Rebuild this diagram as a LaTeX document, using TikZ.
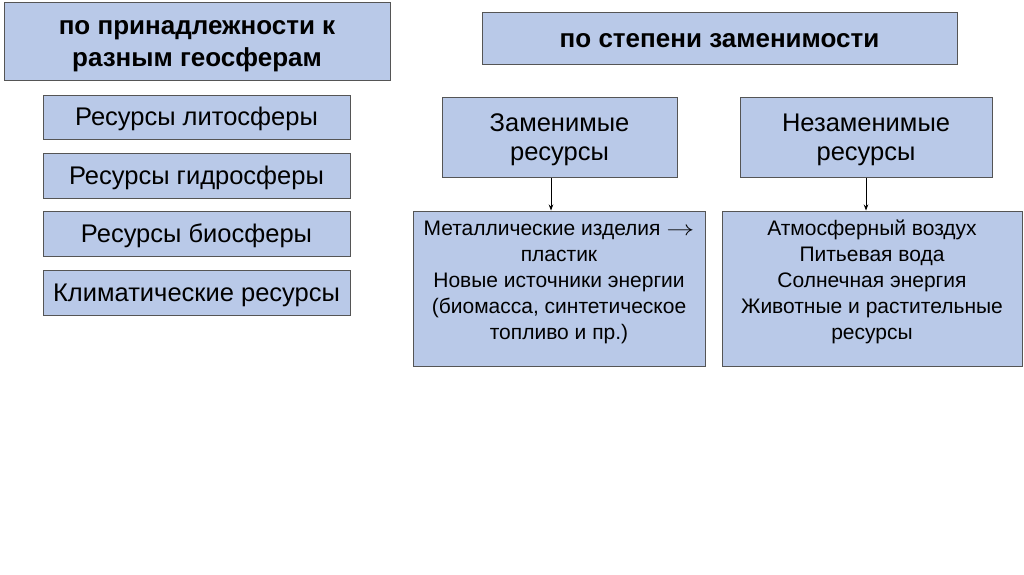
\documentclass[tikz,border=0pt]{standalone}
\usepackage{fontspec}
\usepackage{graphicx}
\setmainfont{Liberation Sans}
\usetikzlibrary{arrows.meta}
\definecolor{boxfill}{RGB}{185,201,232}
\definecolor{boxline}{RGB}{85,85,85}
\newcommand{\pst}{\rule[-0.212em]{0pt}{1.117em}}
\newcommand{\longarr}{\scalebox{1.35}[1]{$\rightarrow$}}
\begin{document}
\begin{tikzpicture}[x=1pt,y=-1pt,
  box/.style={draw=boxline, fill=boxfill, line width=1pt, inner sep=0pt, align=center},
  headtext/.style={font=\fontsize{26}{32}\selectfont\bfseries},
  itemtext/.style={font=\fontsize{25.5}{28}\selectfont},
  bodytext/.style={font=\fontsize{21}{26}\selectfont, align=center, inner sep=0pt},
  conn/.style={-{Stealth[length=6pt,width=4.5pt]}, line width=0.7pt, black}]
\useasboundingbox (0,0) rectangle (1024,574);
\fill[white] (0,0) rectangle (1024,574);
% left column
\node[box, headtext, minimum width=386pt, minimum height=78pt] (geo) at (197,41.5) {\pst по принадлежности к\\\pst разным геосферам};
\node[box, itemtext, minimum width=307pt, minimum height=44pt] (lit) at (196.5,117) {\pst Ресурсы литосферы};
\node[box, itemtext, minimum width=307pt, minimum height=45pt] (gid) at (196.5,175.5) {\pst Ресурсы гидросферы};
\node[box, itemtext, minimum width=307pt, minimum height=45pt] (bio) at (196.5,233.5) {\pst Ресурсы биосферы};
\node[box, itemtext, minimum width=307pt, minimum height=45pt] (kli) at (196.5,292.5) {\pst Климатические ресурсы};
% right column
\node[box, headtext, minimum width=475pt, minimum height=52pt] (zam) at (719.5,38) {\pst по степени заменимости};
\node[box, itemtext, minimum width=235pt, minimum height=80pt] (z1) at (559.5,137) {\pst Заменимые\\\pst ресурсы};
\node[box, itemtext, minimum width=252pt, minimum height=80pt] (z2) at (866,137) {\pst Незаменимые\\\pst ресурсы};
\node[box, minimum width=292pt, minimum height=155pt] (s1) at (559,288.5) {};
\node[box, minimum width=300pt, minimum height=155pt] (s2) at (872,288.5) {};
\node[bodytext, anchor=north] (s1t) at ([yshift=-6pt]s1.north) {\pst Металлические изделия \longarr\\пластик\\Новые источники энергии\\(биомасса, синтетическое\\топливо и пр.)};
\node[bodytext, anchor=north] (s2t) at ([yshift=-6pt]s2.north) {\pst Атмосферный воздух\\Питьевая вода\\Солнечная энергия\\Животные и растительные\\ресурсы};
\draw[conn] ([xshift=-8.5pt]z1.south) -- ([xshift=-8.5pt]z1.south |- s1.north);
\draw[conn] (z2.south) -- (z2.south |- s2.north);
\end{tikzpicture}
\end{document}
